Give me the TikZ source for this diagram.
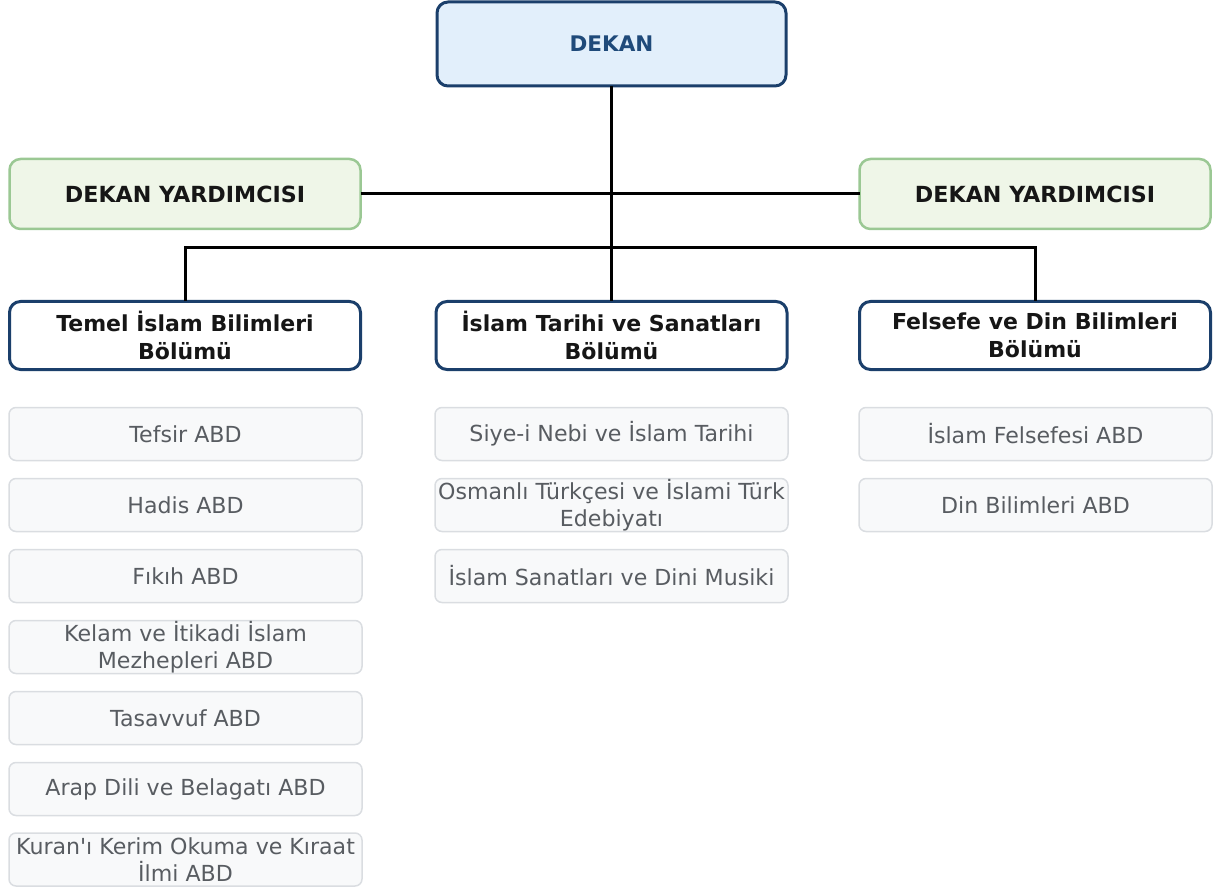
\documentclass[tikz,border=0pt]{standalone}
\usepackage{fontspec}
\setmainfont{DejaVu Sans}
\newcommand{\straightquote}{\XeTeXglyph\XeTeXcharglyph"0027\relax}
\definecolor{dkblue}{HTML}{1B3F6B}
\definecolor{dekanfill}{HTML}{E2EFFB}
\definecolor{dekantext}{HTML}{1F4A7A}
\definecolor{grnborder}{HTML}{9BC894}
\definecolor{grnfill}{HTML}{EFF6E8}
\definecolor{subfill}{HTML}{F8F9FA}
\definecolor{subborder}{HTML}{DADDE1}
\definecolor{subtext}{HTML}{585C61}
\definecolor{titletext}{HTML}{161616}
\tikzset{
  base/.style={rounded corners=11pt, inner sep=0pt, outer sep=0pt, align=center},
  dekanbox/.style={base, draw=dkblue, fill=dekanfill, line width=3pt, minimum width=349pt, minimum height=84pt, text=dekantext, font=\bfseries\fontsize{21.5}{26}\selectfont},
  yardbox/.style={base, draw=grnborder, fill=grnfill, line width=2.5pt, minimum width=351pt, minimum height=70pt, text=titletext, font=\bfseries\fontsize{22.2}{28}\selectfont},
  deptbox/.style={base, draw=dkblue, fill=white, line width=3pt, minimum width=351pt, minimum height=68pt, text=titletext, font=\bfseries\fontsize{22}{28}\selectfont},
  subbox/.style={base, rounded corners=7pt, draw=subborder, fill=subfill, line width=1.5pt, minimum width=353pt, minimum height=53pt, text=subtext, font=\fontsize{22.1}{27}\selectfont},
  conn/.style={draw=black, line width=3pt}
}
\begin{document}
\begin{tikzpicture}[x=1pt,y=-1pt]
\useasboundingbox (0,0) rectangle (1217,890);
% top
\node[dekanbox] (dekan) at (611.5,44) {DEKAN};
\node[yardbox] (yard1) at (185,194) {DEKAN YARDIMCISI};
\node[yardbox] (yard2) at (1035,194) {DEKAN YARDIMCISI};
% departments
\node[deptbox] (d1) at (185,335.5) {Temel İslam Bilimleri\\Bölümü};
\node[deptbox] (d2) at (611.5,335.5) {İslam Tarihi ve Sanatları\\Bölümü};
\node[deptbox] (d3) at (1035,335.5) {Felsefe ve Din Bilimleri\\Bölümü};
% junction
\coordinate (j) at (611.5,248);
% connectors
\draw[conn] (dekan.south) -- (j);
\draw[conn] (yard1.east) -- (yard2.west);
\draw[conn] (d1.north) |- (j) -| (d3.north);
\draw[conn] (j) -- (d2.north);
% sub units left
\node[subbox] (s11) at (185.5,434) {Tefsir ABD};
\node[subbox] (s12) at (185.5,505) {Hadis ABD};
\node[subbox] (s13) at (185.5,576) {Fıkıh ABD};
\node[subbox] (s14) at (185.5,647) {Kelam ve İtikadi İslam\\Mezhepleri ABD};
\node[subbox] (s15) at (185.5,718) {Tasavvuf ABD};
\node[subbox] (s16) at (185.5,789) {Arap Dili ve Belagatı ABD};
\node[subbox] (s17) at (185.5,859.5) {Kuran\straightquote ı Kerim Okuma ve Kıraat\\İlmi ABD};
% sub units center
\node[subbox] (s21) at (611.5,434) {Siye-i Nebi ve İslam Tarihi};
\node[subbox] (s22) at (611.5,505) {Osmanlı Türkçesi ve İslami Türk\\Edebiyatı};
\node[subbox] (s23) at (611.5,576) {İslam Sanatları ve Dini Musiki};
% sub units right
\node[subbox] (s31) at (1035.5,434) {İslam Felsefesi ABD};
\node[subbox] (s32) at (1035.5,505) {Din Bilimleri ABD};
\end{tikzpicture}
\end{document}
